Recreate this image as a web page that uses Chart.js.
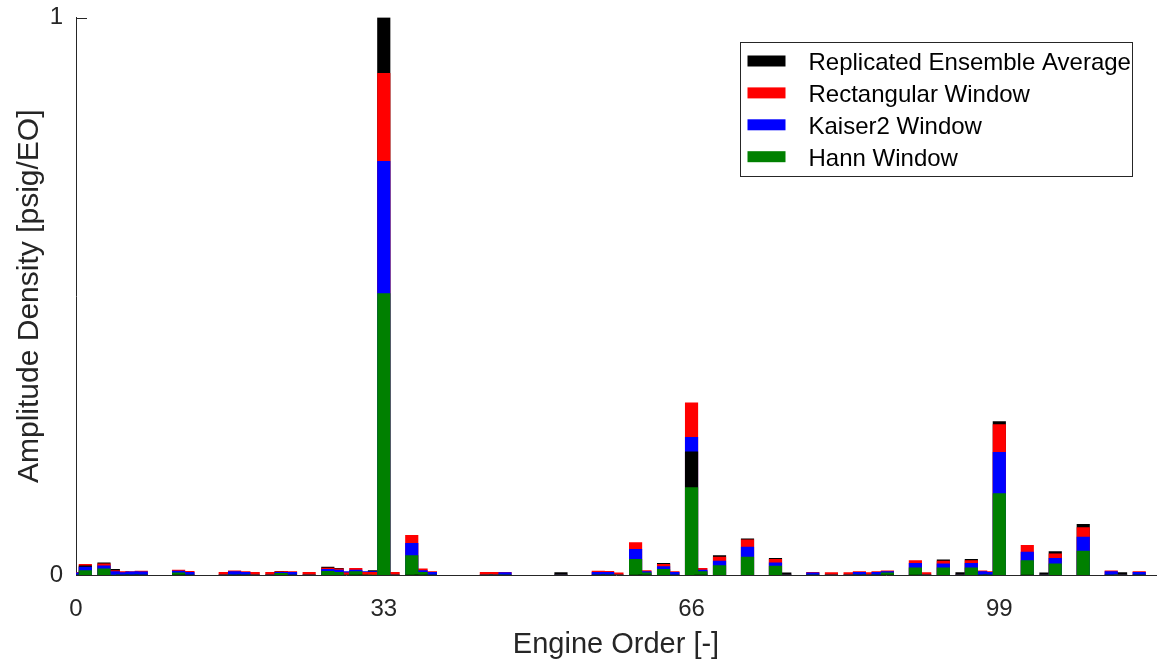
<!DOCTYPE html>
<html>
<head>
<meta charset="utf-8">
<title>Engine Order Spectrum</title>
<script src="https://cdn.jsdelivr.net/npm/chart.js@4.4.1/dist/chart.umd.min.js"></script>
<style>
  html, body { margin: 0; padding: 0; background: #ffffff; }
  #wrap { width: 1160px; height: 662px; position: relative; }
</style>
</head>
<body>
<div id="wrap"><canvas id="spectrum"></canvas></div>
<script>
// Engine orders that carry energy (all other orders are zero)
const orders = [
  0, 1, 3, 4, 5, 6, 7, 11, 12, 16,
  17, 18, 19, 21, 22, 23, 25, 27, 28, 29,
  30, 31, 32, 33, 34, 36, 37, 38, 44, 45,
  46, 52, 56, 57, 58, 60, 61, 63, 64, 66,
  67, 69, 72, 75, 76, 79, 81, 83, 84, 85,
  86, 87, 90, 91, 93, 95, 96, 97, 98, 99,
  102, 104, 105, 108, 111, 112, 114
];

// Normalised amplitude density per order, one array per processing method
const ensembleAvg = [
  0, .0165, .022, .010, 0, 0, 0, 0, 0, 0,
  0, 0, 0, 0, .0065, 0, 0, .014, .012, 0,
  0, 0, .008, 1.0, 0, 0, 0, 0, 0, 0,
  0, .0045, 0, 0, 0, 0, 0, .021, 0, .221,
  0, .035, .065, .030, .004, 0, 0, 0, 0, 0,
  0, 0, 0, 0, .027, .0045, .028, 0, 0, .275,
  0, .004, .042, .091, 0, .0045, 0
];
const rectangular = [
  .005, .019, .020, .008, .006, .006, .007, .009, .0065, .005,
  .0075, .006, .005, .005, .006, .006, .005, .0125, .011, .004,
  .012, .005, .005, .900, .005, .071, .011, .006, .005, .005,
  .005, 0, .007, .0065, .004, .058, .008, .019, .006, .309,
  .012, .032, .063, .028, 0, .005, .0045, .0045, .006, .0045,
  .006, .0075, .026, .0045, .025, 0, .026, .0075, .006, .270,
  .053, 0, .038, .085, .0075, 0, .006
];
const kaiser2 = [
  .004, .014, .0165, .006, .0045, .0055, .0055, .007, .005, 0,
  .006, .005, 0, 0, .005, .005, 0, .010, .009, .006,
  .009, .006, .006, .742, 0, .057, .008, .005, 0, 0,
  .0045, 0, .005, .005, 0, .046, .006, .015, .005, .247,
  .009, .025, .050, .022, 0, .004, 0, 0, .005, 0,
  .005, .006, .021, 0, .020, 0, .021, .006, .005, .220,
  .041, 0, .030, .068, .006, 0, .005
];
const hann = [
  0, .008, .011, 0, 0, 0, 0, .004, 0, 0,
  0, 0, 0, 0, .003, 0, 0, .0066, .005, 0,
  .006, 0, 0, .505, 0, .035, .005, 0, 0, 0,
  0, 0, 0, 0, 0, .028, .004, .010, 0, .157,
  .006, .017, .032, .016, 0, 0, 0, 0, 0, 0,
  0, .004, .013, 0, .013, 0, .013, 0, 0, .146,
  .026, 0, .020, .043, 0, 0, 0
];

const xTickValues = [0, 33, 66, 99];
const yTickValues = [0, 1];

const series = [
  { label: 'Replicated Ensemble Average', color: '#000000', values: ensembleAvg },
  { label: 'Rectangular Window',          color: '#ff0000', values: rectangular },
  { label: 'Kaiser2 Window',              color: '#0000ff', values: kaiser2 },
  { label: 'Hann Window',                 color: '#008000', values: hann }
];

// At every order the bars are overlaid tallest-first, so each method stays visible.
// Layer r holds the r-th largest value of each order, coloured by its method.
const layers = series.map(() => ({ data: [], colors: [] }));
orders.forEach((eo, i) => {
  const ranked = series
    .map(s => ({ v: s.values[i], c: s.color }))
    .sort((a, b) => b.v - a.v);
  ranked.forEach((item, r) => {
    layers[r].data.push({ x: eo, y: item.v });
    layers[r].colors.push(item.c);
  });
});

const AXIS_COLOR = '#262626';
const FONT = "'Liberation Sans', Arial, Helvetica, sans-serif";

const datasets = layers.map((layer, r) => ({
  label: 'layer' + r,
  data: layer.data,
  backgroundColor: layer.colors,
  borderWidth: 0,
  grouped: false,
  barThickness: 12.5,
  order: layers.length - r
}));

// Inward tick marks on both axes
const inwardTicks = {
  id: 'inwardTicks',
  beforeDatasetsDraw(chart) {
    const { ctx, chartArea, scales } = chart;
    const len = 11;
    ctx.save();
    ctx.strokeStyle = AXIS_COLOR;
    ctx.lineWidth = 1;
    ctx.beginPath();
    yTickValues.forEach(v => {
      const py = Math.round(scales.y.getPixelForValue(v)) + 0.5;
      ctx.moveTo(chartArea.left, py);
      ctx.lineTo(chartArea.left + len, py);
    });
    xTickValues.forEach(v => {
      const px = Math.round(scales.x.getPixelForValue(v)) + 0.5;
      ctx.moveTo(px, chartArea.bottom);
      ctx.lineTo(px, chartArea.bottom - len);
    });
    ctx.stroke();
    ctx.restore();
  }
};

// Boxed legend in the upper right of the plot area
const boxedLegend = {
  id: 'boxedLegend',
  afterDraw(chart) {
    const { ctx, chartArea } = chart;
    const boxRight = chartArea.right - 25;
    const boxLeft = boxRight - 391.5;
    const boxTop = chartArea.top + 24;
    const rowH = 31.9;
    const boxH = 133.5;
    ctx.save();
    ctx.fillStyle = '#ffffff';
    ctx.fillRect(boxLeft, boxTop, boxRight - boxLeft, boxH);
    ctx.strokeStyle = AXIS_COLOR;
    ctx.lineWidth = 1;
    ctx.strokeRect(Math.round(boxLeft) + 0.5, Math.round(boxTop) + 0.5,
                   Math.round(boxRight - boxLeft), Math.round(boxH));
    ctx.font = '24px ' + FONT;
    ctx.textBaseline = 'middle';
    ctx.textAlign = 'left';
    series.forEach((s, i) => {
      const cy = boxTop + 19.5 + i * rowH;
      ctx.fillStyle = s.color;
      ctx.fillRect(boxLeft + 8, cy - 5.5, 38, 11);
      ctx.fillStyle = '#000000';
      ctx.fillText(s.label, boxLeft + 69, cy + 2.5);
    });
    ctx.restore();
  }
};

new Chart(document.getElementById('spectrum'), {
  type: 'bar',
  data: { datasets },
  options: {
    responsive: true,
    maintainAspectRatio: false,
    animation: false,
    layout: { padding: { top: 17.5, right: 4, left: 0, bottom: 0 } },
    plugins: {
      legend: { display: false },
      tooltip: { enabled: false }
    },
    scales: {
      x: {
        type: 'linear',
        min: 0,
        max: 115.8,
        offset: false,
        afterFit(scale) {
          scale.height = 87;
          scale.paddingLeft = 0;
          scale.paddingRight = 0;
        },
        afterBuildTicks(scale) { scale.ticks = xTickValues.map(v => ({ value: v })); },
        grid: { display: false },
        border: { display: true, color: AXIS_COLOR, width: 1 },
        ticks: {
          color: AXIS_COLOR,
          font: { family: FONT, size: 24 },
          padding: 12,
          maxRotation: 0,
          autoSkip: false
        },
        title: {
          display: true,
          text: 'Engine Order [-]',
          color: AXIS_COLOR,
          font: { family: FONT, size: 29 },
          padding: { top: 0, bottom: 0 }
        }
      },
      y: {
        type: 'linear',
        min: 0,
        max: 1,
        afterFit(scale) {
          scale.width = 76;
          scale.paddingTop = 0;
          scale.paddingBottom = 0;
        },
        afterBuildTicks(scale) { scale.ticks = yTickValues.map(v => ({ value: v })); },
        grid: { display: false },
        border: { display: true, color: AXIS_COLOR, width: 1 },
        ticks: {
          color: AXIS_COLOR,
          font: { family: FONT, size: 24 },
          padding: 5
        },
        title: {
          display: true,
          text: 'Amplitude Density [psig/EO]',
          color: AXIS_COLOR,
          font: { family: FONT, size: 30 },
          padding: { top: 12, bottom: 12 }
        }
      }
    }
  },
  plugins: [inwardTicks, boxedLegend]
});
</script>
</body>
</html>
